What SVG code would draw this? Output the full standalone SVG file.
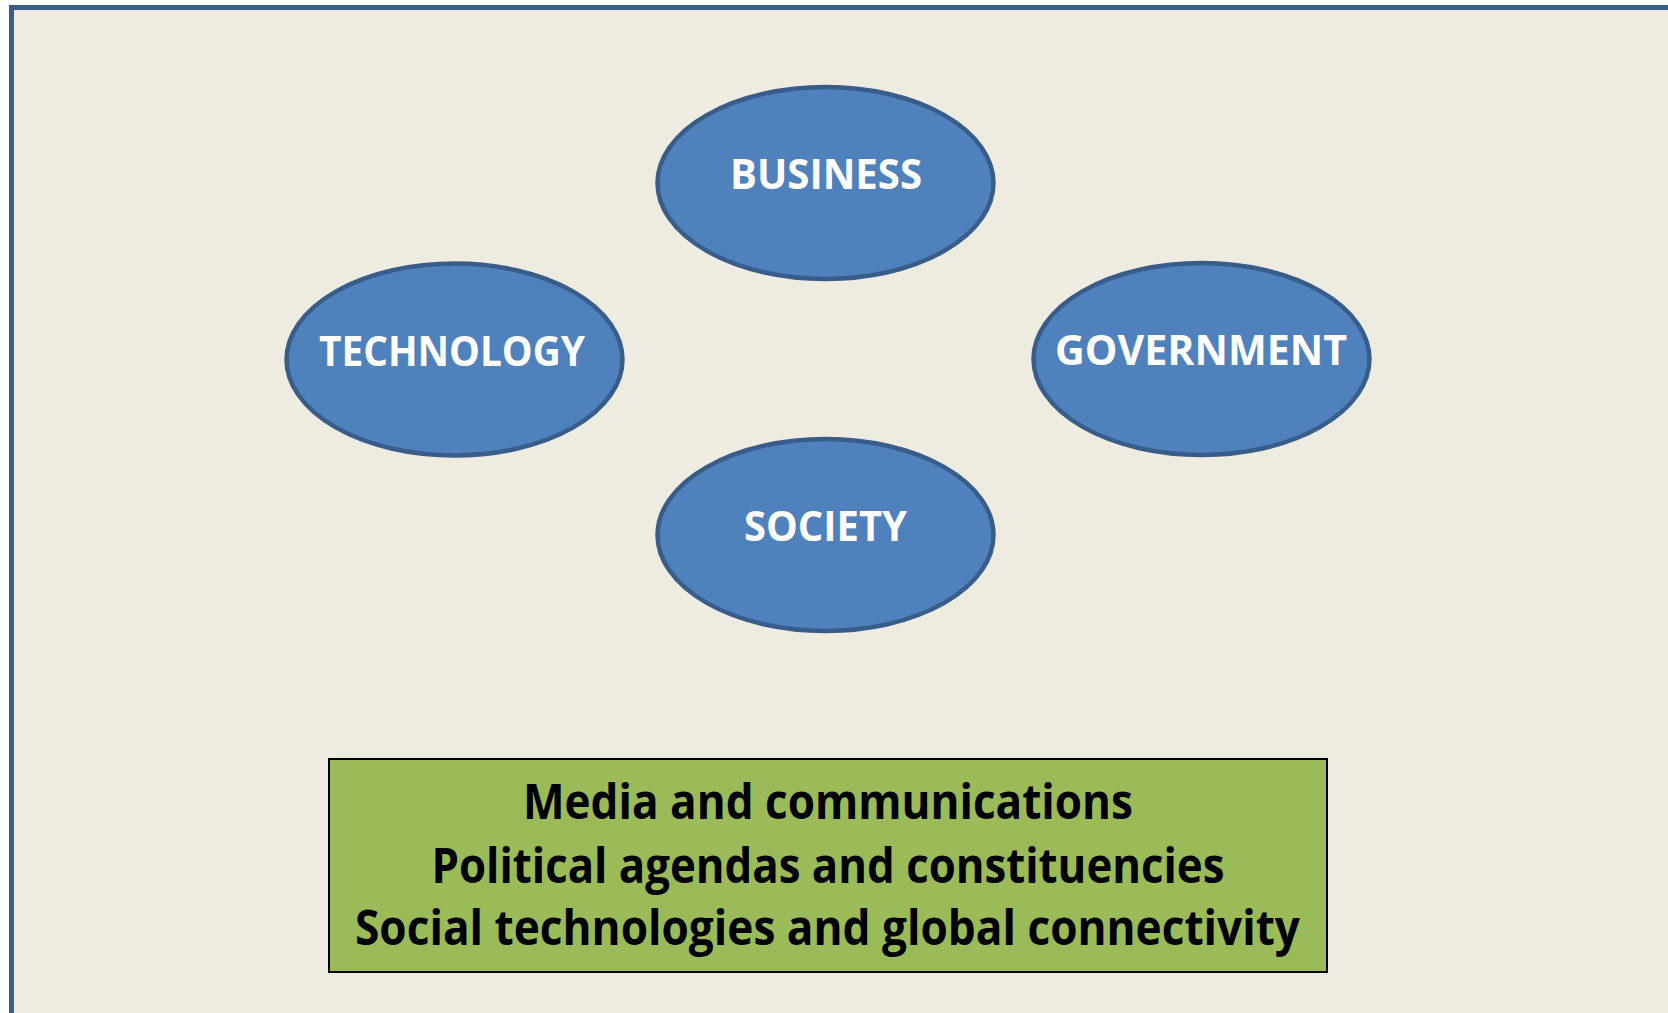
<svg xmlns="http://www.w3.org/2000/svg" width="1668" height="1013" viewBox="0 0 1668 1013">
<style>
.node ellipse{fill:#4F81BD;stroke:#385D8A;stroke-width:4.5}
.lbl{font-family:"Open Sans","Liberation Sans",sans-serif;font-weight:bold;font-size:42px;fill:#FFFFFF;text-anchor:middle}
.box{fill:#9BBB59;stroke:#000000;stroke-width:2}
.btxt{font-family:"Open Sans","Liberation Sans",sans-serif;font-weight:bold;font-size:49px;fill:#000000;text-anchor:middle}
</style>
<rect x="0" y="0" width="1668" height="1013" fill="#FFFFFF"/>
<rect id="frame" x="11.5" y="7.5" width="1700" height="1100" fill="#EEEBE0" stroke="#385D8A" stroke-width="5"/>
<g id="connectors"></g>
<g id="business" class="node">
<ellipse cx="825.5" cy="183" rx="168" ry="96"/>
<text class="lbl" x="826" y="189" textLength="192" lengthAdjust="spacingAndGlyphs">BUSINESS</text>
</g>
<g id="technology" class="node">
<ellipse cx="454.5" cy="359.5" rx="168" ry="96"/>
<text class="lbl" x="452" y="366" textLength="266" lengthAdjust="spacingAndGlyphs">TECHNOLOGY</text>
</g>
<g id="government" class="node">
<ellipse cx="1201.5" cy="359" rx="168" ry="96"/>
<text class="lbl" x="1201" y="365" textLength="292" lengthAdjust="spacingAndGlyphs">GOVERNMENT</text>
</g>
<g id="society" class="node">
<ellipse cx="825.5" cy="535" rx="168" ry="96"/>
<text class="lbl" x="825.5" y="541" textLength="163" lengthAdjust="spacingAndGlyphs">SOCIETY</text>
</g>
<g id="themes">
<rect class="box" x="329" y="759" width="998" height="213"/>
<text class="btxt" x="828" y="819" textLength="610" lengthAdjust="spacingAndGlyphs">Media and communications</text>
<text class="btxt" x="828" y="883" textLength="793" lengthAdjust="spacingAndGlyphs">Political agendas and constituencies</text>
<text class="btxt" x="827.5" y="945" textLength="945" lengthAdjust="spacingAndGlyphs">Social technologies and global connectivity</text>
</g>
</svg>
